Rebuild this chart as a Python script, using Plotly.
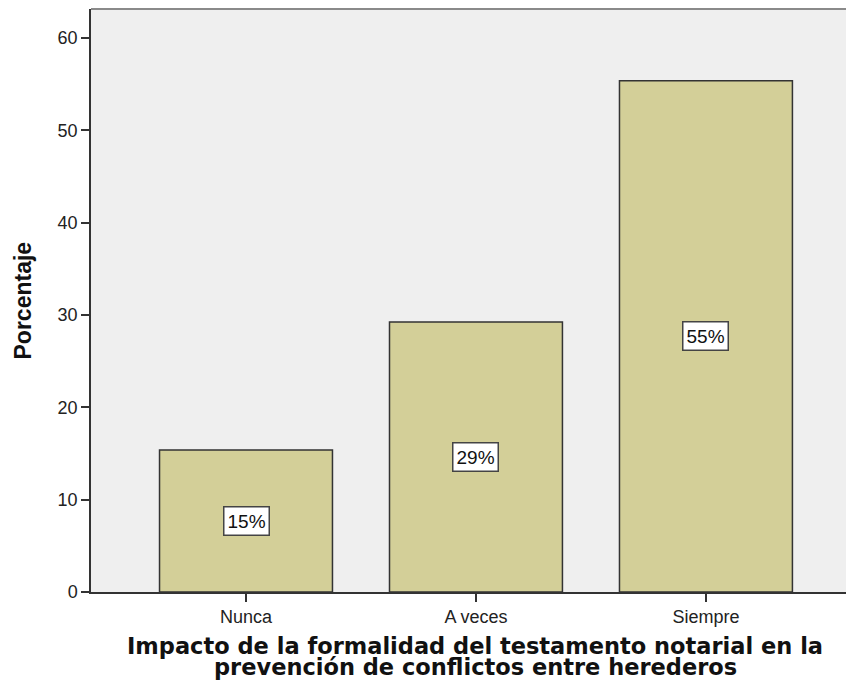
import plotly.graph_objects as go

categories = ["Nunca", "A veces", "Siempre"]
percent = [15.38, 29.23, 55.38]
labels = ["15%", "29%", "55%"]
y_ticks = [0, 10, 20, 30, 40, 50, 60]
x_title_lines = ["Impacto de la formalidad del testamento notarial en la",
                 "prevención de conflictos entre herederos"]
y_title = "Porcentaje"

fig = go.Figure()
fig.add_trace(go.Bar(
    x=categories, y=percent, width=0.752,
    marker=dict(color="#d3cf98", line=dict(color="#333333", width=1.5)),
    hoverinfo="skip",
))

for c, v, t in zip(categories, percent, labels):
    fig.add_annotation(x=c, y=v / 2, text=t, showarrow=False,
                       font=dict(family="Liberation Sans", size=19, color="#111111"),
                       bgcolor="white", bordercolor="#444444", borderwidth=1.5, borderpad=3)

for line, shift in zip(x_title_lines, [-54, -75]):
    fig.add_annotation(xref="paper", yref="paper", x=0.509, y=0, yanchor="middle", yshift=shift,
                       text="<b>" + line + "</b>", showarrow=False, align="center",
                       font=dict(family="DejaVu Sans", size=22.5, color="#111111"))

fig.add_annotation(xref="paper", yref="paper", x=0, y=0.5, xshift=-69, textangle=-90,
                   xanchor="center", yanchor="middle",
                   text="<b>" + y_title + "</b>", showarrow=False,
                   font=dict(family="Liberation Sans", size=23, color="#111111"))

fig.update_layout(
    width=846, height=680,
    margin=dict(l=91, r=0, t=9, b=88),
    plot_bgcolor="#efefef", paper_bgcolor="white",
    showlegend=False, bargap=0.25,
    shapes=[dict(type="line", xref="paper", yref="paper", x0=0, x1=1, y0=1, y1=1,
                 line=dict(color="#8a8a8a", width=2))],
)
fig.update_xaxes(
    range=[-0.674, 2.609], showgrid=False, showline=True, linecolor="#333333", linewidth=1.5,
    ticks="outside", ticklen=8, tickwidth=1.5, tickcolor="#333333",
    tickfont=dict(family="Liberation Sans", size=18, color="#222222"),
)
fig.update_yaxes(
    range=[0, 63.14], tickvals=y_ticks, showgrid=False, zeroline=False,
    showline=True, linecolor="#333333", linewidth=1.5,
    ticks="outside", ticklen=8, tickwidth=1.5, tickcolor="#333333",
    tickfont=dict(family="Liberation Sans", size=18, color="#222222"),
)

fig.write_html("out.html", config={"displayModeBar": False},
               post_script="document.body.style.margin='0';document.body.style.overflow='hidden';")
